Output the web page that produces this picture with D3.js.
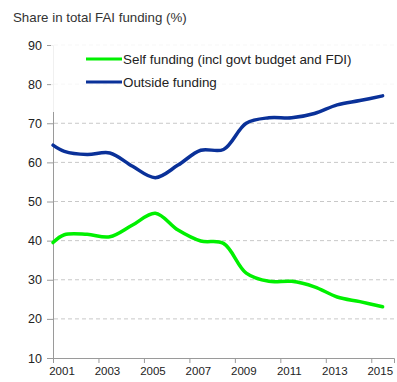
<!DOCTYPE html>
<html>
<head>
<meta charset="utf-8">
<script src="https://cdn.jsdelivr.net/npm/d3@7"></script>
<style>
  body { margin: 0; background: #fff; }
  svg { display: block; font-family: "Liberation Sans", Arial, sans-serif; }
</style>
</head>
<body>
<svg id="chart" width="397" height="382"></svg>
<script>
// Annual observations, plotted at the centre of each year's slot
const years = [2001, 2002, 2003, 2004, 2005, 2006, 2007, 2008, 2009, 2010, 2011, 2012, 2013, 2014, 2015];
const selfFunding = [41.5, 41.6, 41.0, 44.0, 47.0, 42.7, 39.9, 39.3, 31.7, 29.6, 29.6, 28.2, 25.6, 24.4, 23.1];
const outsideFunding = [62.8, 62.0, 62.4, 59.0, 56.1, 59.3, 63.1, 63.3, 70.0, 71.4, 71.4, 72.5, 74.7, 75.8, 77.0];
// Reading at the left edge of the axis
const selfStart = 39.5;
const outsideStart = 64.4;

const yTicks = [10, 20, 30, 40, 50, 60, 70, 80, 90];
const xTicks = [2001, 2003, 2005, 2007, 2009, 2011, 2013, 2015];
const seriesNames = ["Self funding (incl govt budget and FDI)", "Outside funding"];
const seriesColors = ["#00f000", "#0a3199"];

const svg = d3.select("#chart");
const x = d3.scaleLinear().domain([2001, 2016]).range([53, 394]);
const y = d3.scaleLinear().domain([10, 90]).range([358, 45]);

// Title
svg.append("text").attr("x", 13).attr("y", 22)
  .attr("font-size", 13.3).attr("fill", "#333")
  .text("Share in total FAI funding (%)");

// Gridlines
svg.append("g").selectAll("line").data(yTicks.filter(v => v > 10)).join("line")
  .attr("x1", 54).attr("x2", 394)
  .attr("y1", d => y(d)).attr("y2", d => y(d))
  .attr("stroke", "#c8c8c8").attr("stroke-width", 1).attr("stroke-dasharray", "4,3");

// Y axis
const yAxis = svg.append("g").attr("transform", "translate(53,0)")
  .call(d3.axisLeft(y).tickValues(yTicks).tickSize(6).tickPadding(5));
yAxis.select(".domain").attr("stroke", "#9a9a9a");
yAxis.selectAll(".tick line").attr("stroke", "#9a9a9a");
yAxis.selectAll(".tick text").attr("font-size", 12.5).attr("fill", "#222")
  .attr("font-family", "Liberation Sans, Arial, sans-serif");

// X axis: year labels sit inside their slot, right of the tick
const xAxis = svg.append("g").attr("transform", "translate(0,358)")
  .call(d3.axisBottom(x).tickValues(xTicks).tickFormat(d3.format("d")).tickSize(5).tickPadding(4));
xAxis.select(".domain").attr("stroke", "#9a9a9a");
xAxis.selectAll(".tick line").attr("stroke", "#9a9a9a");
xAxis.selectAll(".tick text").attr("font-size", 11.5).attr("fill", "#222")
  .attr("dx", 8.5)
  .attr("font-family", "Liberation Sans, Arial, sans-serif");

// Legend panel over the upper plot area
svg.append("rect").attr("x", 51).attr("y", 40).attr("width", 346).attr("height", 72)
  .attr("fill", "#fff").attr("opacity", 0.85);

// Lines
const line = d3.line().x(d => x(d[0])).y(d => y(d[1])).curve(d3.curveCatmullRom.alpha(0.5));
const selfPts = [[2001, selfStart]].concat(years.map((yr, i) => [yr + 0.5, selfFunding[i]]));
const outsidePts = [[2001, outsideStart]].concat(years.map((yr, i) => [yr + 0.5, outsideFunding[i]]));

svg.append("path").datum(selfPts).attr("d", line)
  .attr("fill", "none").attr("stroke", seriesColors[0]).attr("stroke-width", 3.5)
  .attr("stroke-linecap", "round");
svg.append("path").datum(outsidePts).attr("d", line)
  .attr("fill", "none").attr("stroke", seriesColors[1]).attr("stroke-width", 3.5)
  .attr("stroke-linecap", "round");

// Legend entries
const legend = svg.append("g");
seriesNames.forEach((name, i) => {
  const ly = 59 + i * 23;
  legend.append("line").attr("x1", 86).attr("x2", 122).attr("y1", ly).attr("y2", ly)
    .attr("stroke", seriesColors[i]).attr("stroke-width", 3);
  legend.append("text").attr("x", 123).attr("y", ly + 4.5)
    .attr("font-size", 13.4).attr("fill", "#222").text(name);
});
</script>
</body>
</html>
